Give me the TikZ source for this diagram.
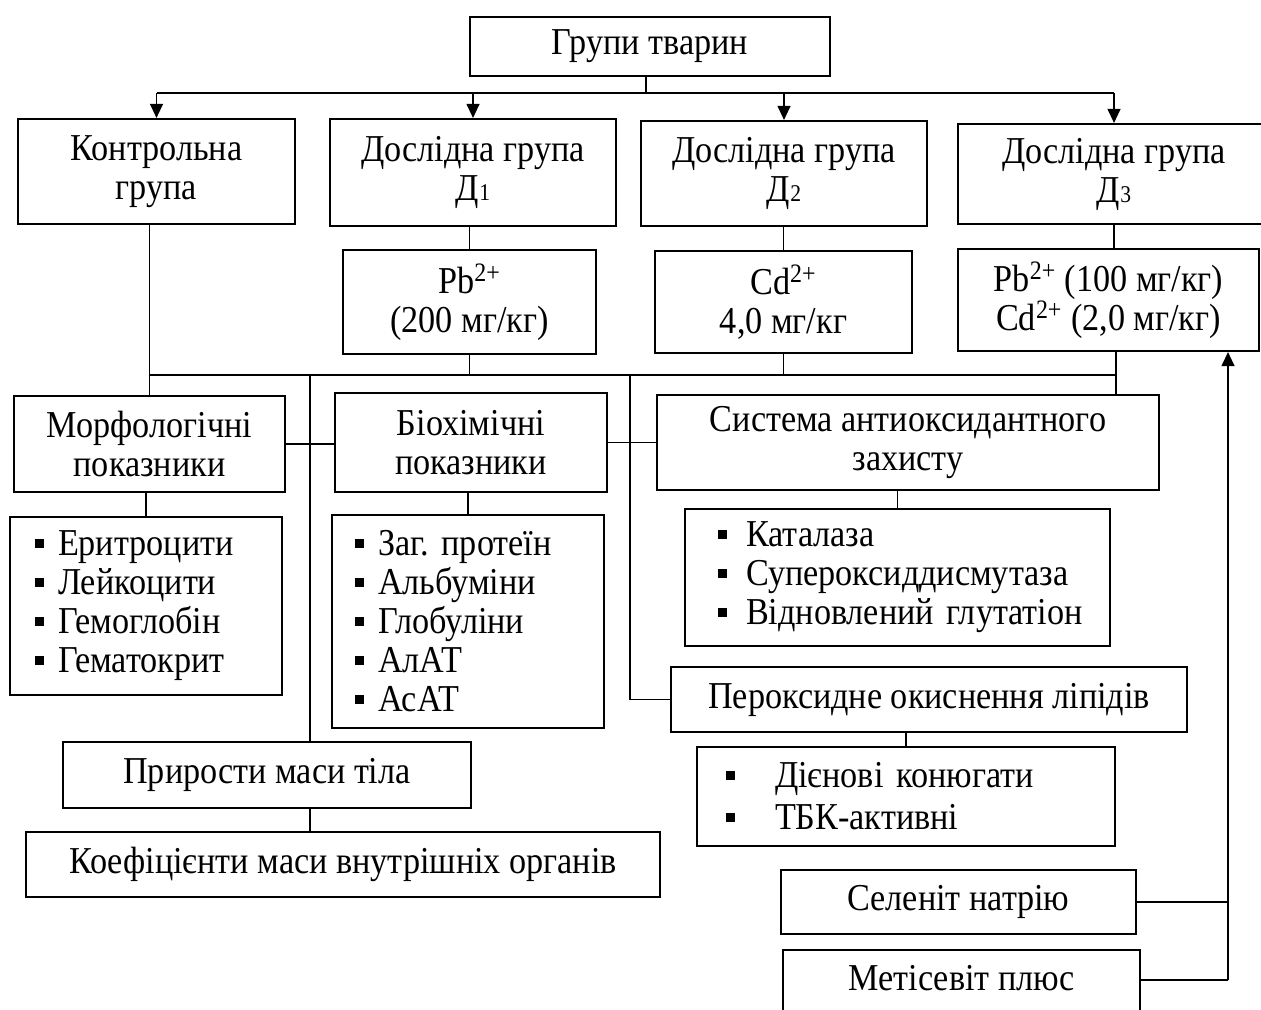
\documentclass[tikz,border=0pt]{standalone}
\usepackage{fontspec}
\setmainfont{Liberation Serif}[FakeStretch=0.9]
\usetikzlibrary{arrows.meta,positioning}

\newcommand{\bul}[1][7pt]{\rule[4pt]{4.5pt}{4.5pt}\nobreak\hspace{#1}}
\newcommand{\nm}[1]{{\fontsize{12}{12}\selectfont #1}}
\frenchspacing

\begin{document}
\begin{tikzpicture}[x=0.5pt,y=-0.5pt,
    box/.style={draw,line width=1.1pt,inner sep=0pt,align=center,font=\fontsize{19}{19.5}\selectfont},
    lst/.style={box,align=left},
    link/.style={line width=0.6pt},
    arr/.style={link,-{Triangle[length=7pt,width=6.5pt]}}]
\useasboundingbox (0,0) rectangle (1261,1009);

        % groups
        \node[box,minimum width=180pt,minimum height=29.5pt] (grp) at (650,46.5) {Групи тварин};
        \node[box,minimum width=138.5pt,minimum height=52.5pt] (ctrl) at (156.5,171.5) {Контрольна\\група};
        \node[box,minimum width=143pt,minimum height=53.5pt] (d1) at (473,172.5) {Дослідна група\\Д\nm{1}};
        \node[box,minimum width=143pt,minimum height=52.5pt] (d2) at (784,173.5) {Дослідна група\\Д\nm{2}};
        \node[box,minimum width=156pt,minimum height=50pt] (d3) at (1114,174) {Дослідна група\\Д\nm{3}};
        \node[box,minimum width=126.5pt,minimum height=52pt] (pb) at (469.5,302) {Pb\textsuperscript{2+}\\(200 мг/кг)};
        \node[box,minimum width=128.5pt,minimum height=51pt] (cd) at (783.5,302) {Cd\textsuperscript{2+}\\4,0 мг/кг};
        \node[box,minimum width=150.5pt,minimum height=51pt] (pbcd) at (1108.5,300) {Pb\textsuperscript{2+} (100 мг/кг)\\Cd\textsuperscript{2+} (2,0 мг/кг)};

        % indices
        \node[box,minimum width=135.5pt,minimum height=48pt] (morph) at (149.5,444) {Морфологічні\\показники};
        \node[box,minimum width=136pt,minimum height=49.5pt] (bio) at (471,442.5) {Біохімічні\\показники};
        \node[box,minimum width=251pt,minimum height=47.5pt] (antiox) at (908,442.5) {Система антиоксидантного\\захисту};
        \node[lst,inner xsep=12.5pt,text width=111pt,minimum height=89pt] (mlist) at (146,606) {\bul Еритроцити\\\bul Лейкоцити\\\bul Гемоглобін\\\bul Гематокрит};
        \node[lst,inner xsep=11.5pt,text width=113pt,minimum height=106.5pt] (blist) at (468,621.5) {\bul Заг.~протеїн\\\bul Альбуміни\\\bul Глобуліни\\\bul АлАТ\\\bul АсАТ};
        \node[lst,inner xsep=16.5pt,text width=179.5pt,minimum height=68.5pt] (alist) at (897.5,577.5) {\bul[9.5pt]Каталаза\\\bul[9.5pt]Супероксиддисмутаза\\\bul[9.5pt]Відновлений~глутатіон};
        \node[box,minimum width=258pt,minimum height=32.5pt] (perox) at (929,699.5) {Пероксидне окиснення ліпідів};
        \node[lst,inner xsep=14.5pt,text width=180pt,minimum height=49.5pt] (plist) at (906,796.5) {\bul[20pt]Дієнові~конюгати\\[1.5pt]\bul[20pt]ТБК-активні};
        \node[box,minimum width=204pt,minimum height=33pt] (prir) at (267,775) {Прирости маси тіла};
        \node[box,minimum width=317pt,minimum height=32.5pt] (koef) at (343,864.5) {Коефіцієнти маси внутрішніх органів};
        \node[box,minimum width=177.5pt,minimum height=32pt] (selen) at (958.5,902) {Селеніт натрію};
        \node[box,minimum width=178.5pt,text height=20pt,text depth=20pt,anchor=north] (metis) at (961.5,949) {Метісевіт плюс};

        % top branching
        \coordinate (j) at (646,93);
        \draw[link] (grp.south -| j) -- (j);
        \draw[link] (ctrl.north |- j) -- (d3.north |- j);
        \foreach \n in {ctrl,d1,d2,d3}
            \draw[arr] (\n.north |- j) -- (\n.north);

        \draw[link] (d1.south -| pb.north) -- (pb.north);
        \draw[link] (cd.north |- d2.south) -- (cd.north);
        \draw[link] (d3.south) -- (d3.south |- pbcd.north);

        % common line
        \coordinate (bus) at (1116,375);
        \draw[link] (morph.north |- ctrl.south) -- (morph.north);
        \draw[link] (morph.north |- bus) -- (bus);
        \draw[link] (pb.south) -- (pb.south |- bus);
        \draw[link] (cd.south) -- (cd.south |- bus);
        \draw[link] (pbcd.south -| bus) -- (bus |- antiox.north);

        \coordinate (v1) at (310,375);
        \coordinate (v2) at (630,375);
        \draw[link] (v1) -- (v1 |- prir.north);
        \draw[link] (v1 |- prir.south) -- (v1 |- koef.north);
        \draw[link] (v2) |- (perox.west);
        \draw[link] (morph.east) -- (morph.east -| bio.west);
        \draw[link] (bio.east) -- (bio.east -| antiox.west);

        \draw[link] (mlist.north |- morph.south) -- (mlist.north);
        \draw[link] (blist.north |- bio.south) -- (blist.north);
        \draw[link] (alist.north |- antiox.south) -- (alist.north);
        \draw[link] (plist.north |- perox.south) -- (plist.north);

        % supplements
        \coordinate (r) at (1228,980);
        \draw[link] ([yshift=-15.5pt]metis.north east) -- (r);
        \draw[arr] (r) -- (r |- pbcd.south);
        \draw[link] (selen.east) -- (selen.east -| r);
    \end{tikzpicture}
\end{document}
